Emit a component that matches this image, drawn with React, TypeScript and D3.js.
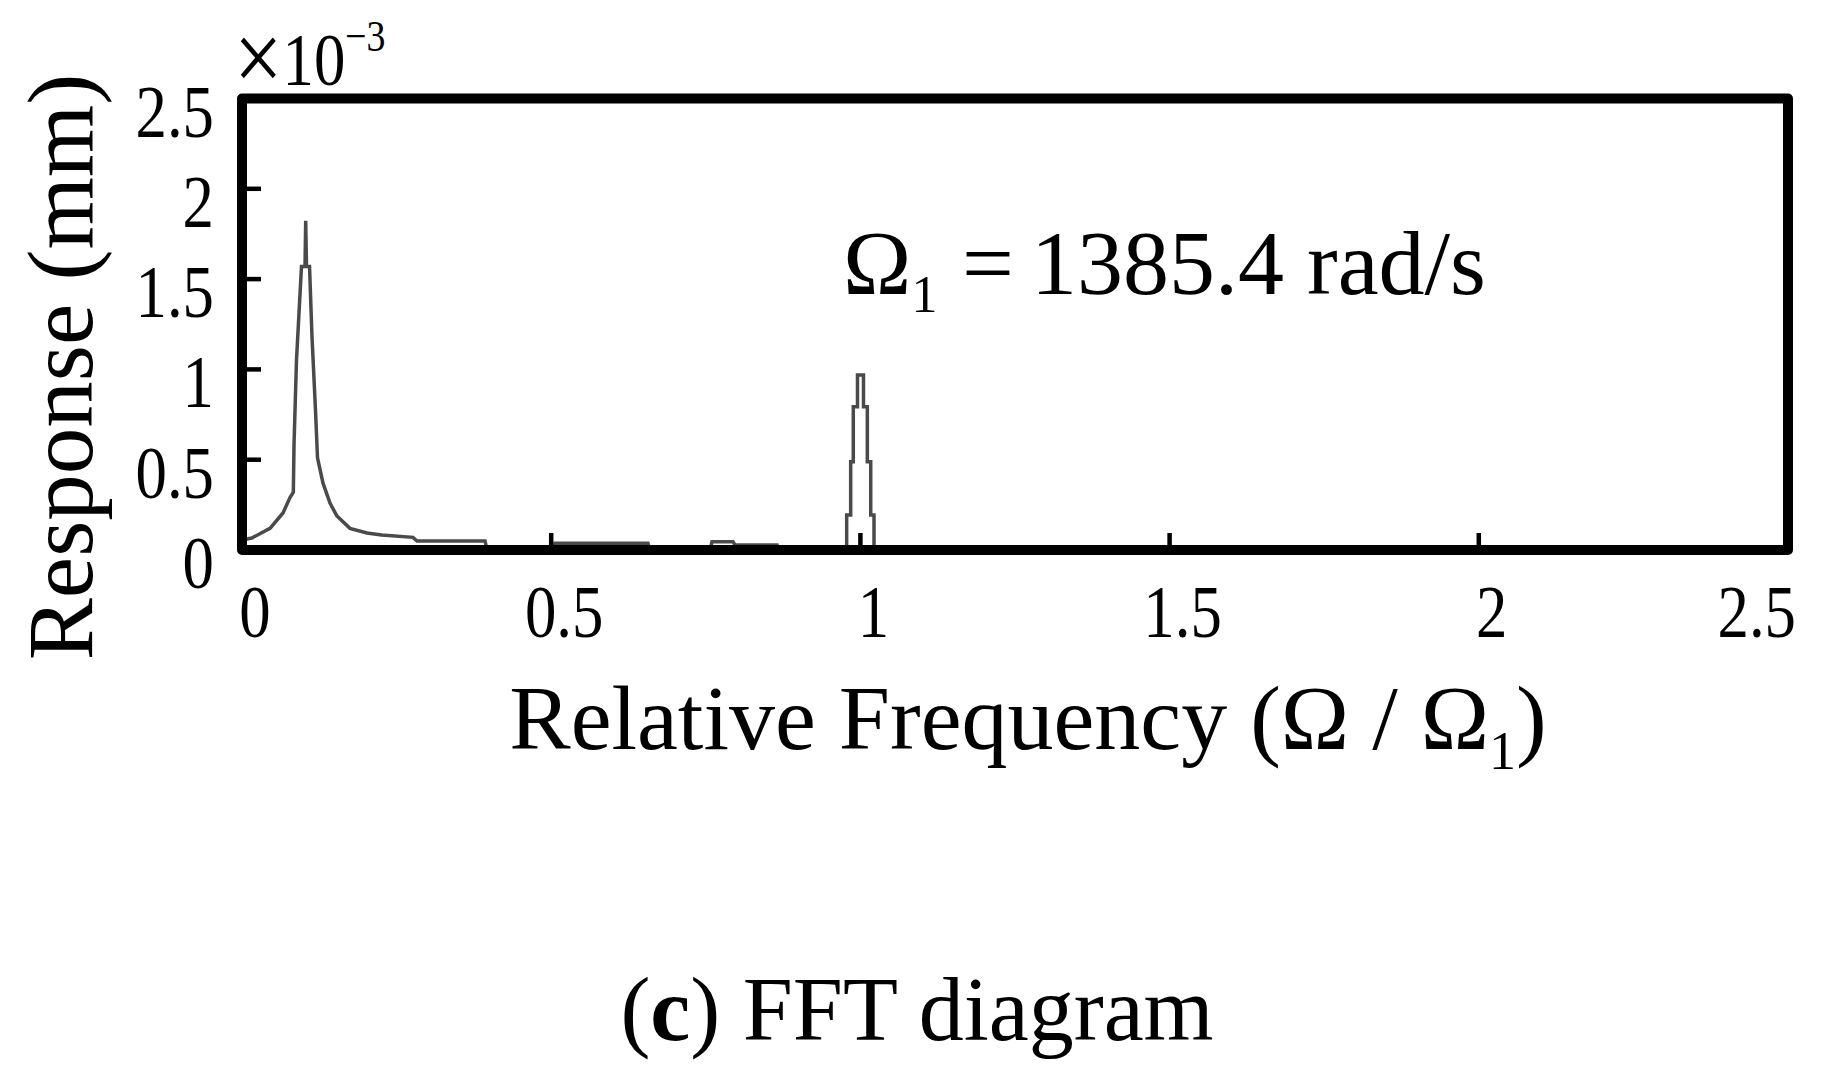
import * as d3 from "d3";

// spectrum (x: Ω/Ω1, y: response in 1e-3 mm)
const freq = [
  0, 0.0157, 0.0453, 0.0663, 0.0776, 0.083, 0.0841, 0.0881, 0.0962, 0.1019, 0.103, 0.1043,
  0.1092, 0.1132, 0.1189, 0.1221, 0.131, 0.1423, 0.1531, 0.1746, 0.2021, 0.2259, 0.2765,
  0.283, 0.393, 0.3962, 0.5029, 0.5061, 0.6565, 0.6598, 0.7568, 0.76, 0.794, 0.7972, 0.8654,
  0.8684, 0.9778, 0.9778, 0.9843, 0.9843, 0.9885, 0.9885, 0.9953, 0.9953, 1.005, 1.005,
  1.0112, 1.0112, 1.0167, 1.0167, 1.022, 1.022, 2.5,
];
const response = [
  0.055, 0.066, 0.12, 0.205, 0.29, 0.32, 0.58, 1.05, 1.57, 1.57, 1.823, 1.57,
  1.57, 1.18, 0.77, 0.51, 0.37, 0.26, 0.19, 0.12, 0.094, 0.083, 0.07,
  0.05, 0.05, 0, 0, 0.037, 0.037, 0, 0, 0.046, 0.046, 0.028, 0.028,
  0, 0, 0.194, 0.194, 0.489, 0.489, 0.793, 0.793, 0.969, 0.969, 0.793,
  0.793, 0.489, 0.489, 0.194, 0.194, 0, 0,
];

const xTicks = [0, 0.5, 1, 1.5, 2, 2.5];
const yTicks = [0, 0.5, 1, 1.5, 2, 2.5];
const xLabels = ["0", "0.5", "1", "1.5", "2", "2.5"];
const yLabels = ["0", "0.5", "1", "1.5", "2", "2.5"];

const width = 1843;
const height = 1087;
const font = "'Liberation Serif', 'Times New Roman', serif";
// the tick numbers in the original are tall and narrow
const squeeze = 0.86;
const tickFont = 73;

export default function App() {
  const x = d3.scaleLinear().domain([0, 2.5]).range([242, 1788]);
  const y = d3.scaleLinear().domain([0, 2.5]).range([550, 98.5]);

  const points = freq.map((f, i) => [f, response[i]] as [number, number]);
  const line = d3
    .line<[number, number]>()
    .x((d) => x(d[0]))
    .y((d) => y(d[1]));

  const x0 = x(0);
  const x1 = x(2.5);
  const y0 = y(0);
  const y1 = y(2.5);

  return (
    <svg
      width={width}
      height={height}
      style={{ position: "absolute", left: 0, top: 0, background: "#fff" }}
      fontFamily={font}
    >
      <rect x={0} y={0} width={width} height={height} fill="#fff" />

      {/* data */}
      <path
        d={line(points) ?? ""}
        fill="none"
        stroke="#4a4a4a"
        strokeWidth={3.5}
        strokeLinejoin="miter"
      />

      {/* inward ticks */}
      {yTicks.slice(1, -1).map((t) => (
        <line key={"yt" + t} x1={x0} x2={x0 + 19} y1={y(t)} y2={y(t)} stroke="#000" strokeWidth={4.5} />
      ))}
      {xTicks.slice(1, -1).map((t) => (
        <line key={"xt" + t} x1={x(t)} x2={x(t)} y1={y0} y2={y0 - 17} stroke="#000" strokeWidth={4.5} />
      ))}

      {/* frame */}
      <rect
        x={x0}
        y={y1}
        width={x1 - x0}
        height={y0 - y1}
        fill="none"
        stroke="#000"
        strokeWidth={10}
        strokeLinejoin="round"
      />

      {/* tick labels */}
      {yTicks.map((t, i) => (
        <text
          key={"yl" + t}
          transform={`translate(214,${y(t) + 38}) scale(${squeeze},1)`}
          fontSize={tickFont}
          textAnchor="end"
          fill="#000"
        >
          {yLabels[i]}
        </text>
      ))}
      {xTicks.map((t, i) => {
        const last = i === xTicks.length - 1;
        return (
          <text
            key={"xl" + t}
            transform={`translate(${last ? x1 + 8 : x(t) + 13},637) scale(${squeeze},1)`}
            fontSize={tickFont}
            textAnchor={last ? "end" : "middle"}
            fill="#000"
          >
            {xLabels[i]}
          </text>
        );
      })}

      {/* exponent */}
      <text transform={`translate(234,85) scale(${squeeze},1)`} fontSize={tickFont} fill="#000">
        <tspan fontSize={100} dy={6}>×</tspan>
        <tspan dy={-6}>10</tspan>
        <tspan fontSize={44} dy={-34}>−3</tspan>
      </text>

      {/* axis titles */}
      <text
        transform="translate(92,367) rotate(-90)"
        fontSize={93}
        textAnchor="middle"
        fill="#000"
      >
        Response (mm)
      </text>
      <text x={1028} y={749} fontSize={92} textAnchor="middle" fill="#000">
        Relative Frequency (Ω / Ω
        <tspan fontSize={54} dy={20}>1</tspan>
        <tspan dy={-20}>)</tspan>
      </text>

      {/* annotation */}
      <text x={843} y={294} fontSize={92} fill="#000">
        Ω<tspan fontSize={52} dy={18}>1</tspan>
        <tspan x={962} dy={-18}>=</tspan>
        <tspan x={1031}>1385.4 rad/s</tspan>
      </text>

      {/* caption */}
      <text x={917} y={1040} fontSize={90} textAnchor="middle" fill="#000">
        (<tspan fontWeight="bold">c</tspan>) FFT diagram
      </text>
    </svg>
  );
}
